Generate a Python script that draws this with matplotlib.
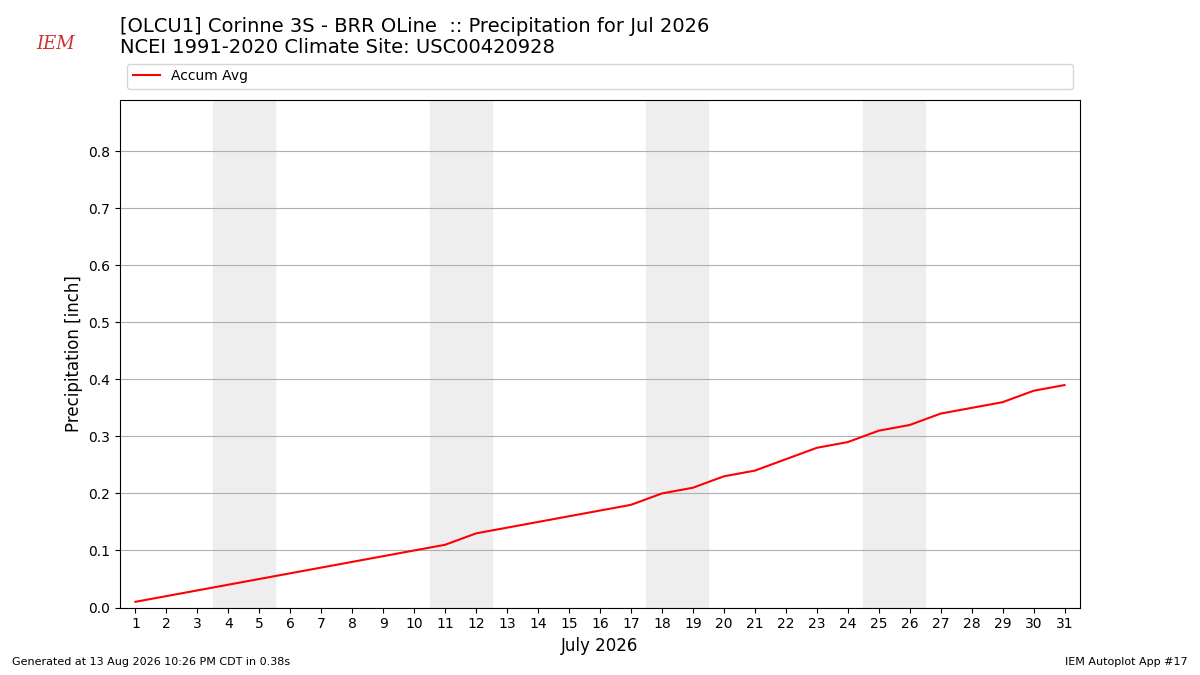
import matplotlib
matplotlib.use("Agg")
import matplotlib.pyplot as plt

days = list(range(1, 32))
accum_avg = [0.01, 0.02, 0.03, 0.04, 0.05, 0.06, 0.07, 0.08, 0.09, 0.10,
             0.11, 0.13, 0.14, 0.15, 0.16, 0.17, 0.18, 0.20, 0.21, 0.23,
             0.24, 0.26, 0.28, 0.29, 0.31, 0.32, 0.34, 0.35, 0.36, 0.38, 0.39]
weekends = [(4, 5), (11, 12), (18, 19), (25, 26)]

fig = plt.figure(figsize=(12, 6.75), dpi=100)
ax = fig.add_axes([0.1, 0.1, 0.8, 0.752])

for a, b in weekends:
    ax.axvspan(a - 0.5, b + 0.5, color='#eeeeee', zorder=0)

line, = ax.plot(days, accum_avg, color='red', lw=1.5, label='Accum Avg')
ax.set_xlim(0.5, 31.5)
ax.set_ylim(0, 0.89)
ax.set_xticks(days)
ax.set_yticks([i / 10 for i in range(9)])
ax.yaxis.grid(True, color='#b0b0b0')
ax.set_axisbelow(True)
ax.set_xlabel('July 2026', fontsize=12)
ax.set_ylabel('Precipitation [inch]', fontsize=12)

fig.legend(handles=[line], loc='lower left', bbox_to_anchor=(0.1, 0.858, 0.8, 0.04),
           mode='expand', fontsize=10, frameon=True)

fig.text(0.1, 0.96, '[OLCU1] Corinne 3S - BRR OLine  :: Precipitation for Jul 2026',
         fontsize=14, va='center')
fig.text(0.1, 0.93, 'NCEI 1991-2020 Climate Site: USC00420928', fontsize=14, va='center')
fig.text(0.03, 0.935, 'IEM', color='#cc3333', fontsize=13, style='italic',
         family='DejaVu Serif', va='center')
fig.text(0.01, 0.015, 'Generated at 13 Aug 2026 10:26 PM CDT in 0.38s', fontsize=8)
fig.text(0.99, 0.015, 'IEM Autoplot App #17', fontsize=8, ha='right')

fig.savefig('out.png', dpi=100)
